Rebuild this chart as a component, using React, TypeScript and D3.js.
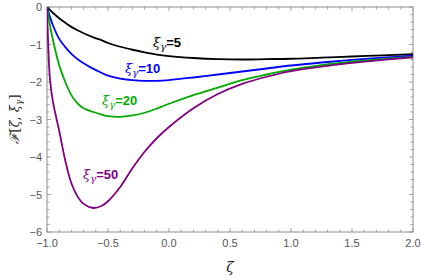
import React from "react";
import * as d3 from "d3";

const zeta = [-1, -0.975, -0.95, -0.9, -0.85, -0.8, -0.75, -0.7, -0.62, -0.55, -0.5, -0.4, -0.3, -0.2, -0.1, 0, 0.2, 0.4, 0.6, 0.8, 1.0, 1.25, 1.5, 1.75, 2.0];
const f5 = [0, -0.08, -0.16, -0.3, -0.42, -0.53, -0.62, -0.7, -0.81, -0.89, -0.96, -1.06, -1.14, -1.21, -1.27, -1.31, -1.36, -1.39, -1.4, -1.39, -1.38, -1.35, -1.32, -1.29, -1.26];
const f10 = [0, -0.27, -0.5, -0.85, -1.07, -1.25, -1.39, -1.5, -1.65, -1.76, -1.83, -1.91, -1.95, -1.97, -1.97, -1.95, -1.88, -1.8, -1.72, -1.64, -1.56, -1.48, -1.41, -1.35, -1.3];
const f20 = [0, -0.5, -0.9, -1.55, -2.0, -2.35, -2.57, -2.7, -2.8, -2.87, -2.91, -2.93, -2.89, -2.82, -2.71, -2.58, -2.35, -2.15, -1.95, -1.8, -1.67, -1.55, -1.46, -1.39, -1.33];
const f50 = [0, -1.95, -2.55, -3.3, -4.1, -4.7, -5.05, -5.25, -5.36, -5.3, -5.18, -4.8, -4.3, -3.86, -3.5, -3.2, -2.7, -2.32, -2.05, -1.86, -1.71, -1.59, -1.49, -1.41, -1.34];

const seriesNames = ["5", "10", "20", "50"];
const seriesColors = ["#000000", "#0000ff", "#00aa00", "#800080"];
const seriesData = [f5, f10, f20, f50];
const labelPos = [
  [153, 47],
  [125, 73],
  [102, 105],
  [83, 179],
];

const xTicks = [-1.0, -0.5, 0.0, 0.5, 1.0, 1.5, 2.0];
const yTicks = [0, -1, -2, -3, -4, -5, -6];

export default function App() {
  const W = 421, H = 277;
  const x0 = 47, x1 = 413, y0 = 7, y1 = 232;
  const x = d3.scaleLinear().domain([-1, 2]).range([x0, x1]);
  const y = d3.scaleLinear().domain([0, -6]).range([y0, y1]);
  const line = d3
    .line<[number, number]>()
    .x((d) => x(d[0]))
    .y((d) => y(d[1]))
    .curve(d3.curveCatmullRom.alpha(0.5));

  const xMinor = d3.range(-1, 2.0001, 0.1).map((v) => +v.toFixed(2));
  const yMinor = d3.range(0, -6.0001, -0.2).map((v) => +v.toFixed(2));
  const frame = "#8c8c8c";
  const tickFont = { fontFamily: "Liberation Sans, Arial, sans-serif", fontSize: 11, fill: "#555" };

  return (
    <svg width={W} height={H} style={{ position: "absolute", left: 0, top: 0, background: "#fff" }}>
      <defs>
        <clipPath id="plot">
          <rect x={x0} y={y0} width={x1 - x0} height={y1 - y0} />
        </clipPath>
      </defs>
      {xMinor.map((v, i) => {
        const major = Math.abs(v * 2 - Math.round(v * 2)) < 1e-6;
        const len = major ? 4 : 2.5;
        return (
          <g key={"xm" + i}>
            <line x1={x(v)} x2={x(v)} y1={y1} y2={y1 - len} stroke={frame} strokeWidth={0.8} />
            <line x1={x(v)} x2={x(v)} y1={y0} y2={y0 + len} stroke={frame} strokeWidth={0.8} />
          </g>
        );
      })}
      {yMinor.map((v, i) => {
        const major = Math.abs(v - Math.round(v)) < 1e-6;
        const len = major ? 4 : 2.5;
        return (
          <g key={"ym" + i}>
            <line x1={x0} x2={x0 + len} y1={y(v)} y2={y(v)} stroke={frame} strokeWidth={0.8} />
            <line x1={x1} x2={x1 - len} y1={y(v)} y2={y(v)} stroke={frame} strokeWidth={0.8} />
          </g>
        );
      })}
      <rect x={x0} y={y0} width={x1 - x0} height={y1 - y0} fill="none" stroke={frame} strokeWidth={1} />
      {xTicks.map((v) => (
        <text key={"xt" + v} x={x(v)} y={y1 + 15} textAnchor="middle" {...tickFont}>
          {v < 0 ? "\u2212" + Math.abs(v).toFixed(1) : v.toFixed(1)}
        </text>
      ))}
      {yTicks.map((v) => (
        <text key={"yt" + v} x={x0 - 5} y={y(v) + 4} textAnchor="end" {...tickFont}>
          {v < 0 ? "\u2212" + Math.abs(v) : String(v)}
        </text>
      ))}
      <g clipPath="url(#plot)">
        {seriesData.map((s, i) => (
          <path
            key={"s" + i}
            d={line(zeta.map((z, j) => [z, s[j]] as [number, number])) || ""}
            fill="none"
            stroke={seriesColors[i]}
            strokeWidth={1.8}
          />
        ))}
      </g>
      {seriesNames.map((n, i) => (
        <text
          key={"lab" + i}
          x={labelPos[i][0]}
          y={labelPos[i][1]}
          fill={seriesColors[i]}
          style={{ fontFamily: "Liberation Sans, Arial, sans-serif", fontSize: 13 }}
        >
          <tspan fontStyle="italic" fontFamily="DejaVu Serif, serif" fontSize={13}>ξ</tspan>
          <tspan fontStyle="italic" fontFamily="DejaVu Serif, serif" fontSize={10} dy={3}>γ</tspan>
          <tspan fontWeight="bold" dy={-3}>{"=" + n}</tspan>
        </text>
      ))}
      <text
        x={230}
        y={272}
        textAnchor="middle"
        style={{ fontFamily: "DejaVu Serif, serif", fontStyle: "italic", fontSize: 14, fill: "#222" }}
      >
        ζ
      </text>
      <text
        transform={`translate(19,119) rotate(-90)`}
        textAnchor="middle"
        style={{ fontFamily: "DejaVu Serif, serif", fontSize: 13, fill: "#222" }}
      >
        <tspan fontStyle="italic">ℱ</tspan>
        <tspan>[</tspan>
        <tspan fontStyle="italic">ζ</tspan>
        <tspan>, </tspan>
        <tspan fontStyle="italic">ξ</tspan>
        <tspan fontStyle="italic" fontSize={9} dy={3}>γ</tspan>
        <tspan dy={-3}>]</tspan>
      </text>
    </svg>
  );
}
